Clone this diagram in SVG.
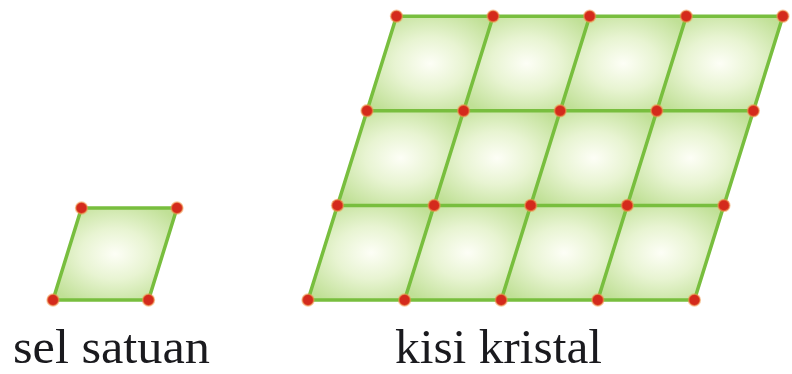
<svg xmlns="http://www.w3.org/2000/svg" xmlns:xlink="http://www.w3.org/1999/xlink" width="792" height="374" viewBox="0 0 792 374">
<defs>
<radialGradient id="g" cx="0.5" cy="0.5" r="0.62">
<stop offset="0" stop-color="#fdfef6"/>
<stop offset="0.45" stop-color="#e8f4d2"/>
<stop offset="1" stop-color="#c0e096"/>
</radialGradient>
<path id="cell" d="M0,0 L96.6,0 L126.1,-94.6 L29.5,-94.6 Z"/>
<circle id="dot" r="5.8"/>
</defs>
<style>
.fill{fill:url(#g)}
.edge{stroke:#78be3e;stroke-width:3.5;fill:none;stroke-linecap:round}
.dot{fill:#d42a1c;stroke:#f09a50;stroke-opacity:0.55;stroke-width:1.8}
.lbl{font-family:"Liberation Serif","DejaVu Serif",serif;font-size:48px;fill:#1a1a1e}
</style>
<rect width="792" height="374" fill="#ffffff"/>
<g id="sel-satuan">
<path class="fill" d="M53,300 L148.5,300 L177,208 L81.5,208 Z"/>
<path class="edge" d="M53,300 L148.5,300 L177,208 L81.5,208 Z"/>
<g class="dot">
<use xlink:href="#dot" x="53" y="300"/><use xlink:href="#dot" x="148.5" y="300"/>
<use xlink:href="#dot" x="177" y="208"/><use xlink:href="#dot" x="81.5" y="208"/>
</g>
</g>
<g id="kisi-kristal">
<g class="fill">
<use xlink:href="#cell" x="308" y="300"/><use xlink:href="#cell" x="404.6" y="300"/><use xlink:href="#cell" x="501.2" y="300"/><use xlink:href="#cell" x="597.8" y="300"/>
<use xlink:href="#cell" x="337.5" y="205.4"/><use xlink:href="#cell" x="434.1" y="205.4"/><use xlink:href="#cell" x="530.7" y="205.4"/><use xlink:href="#cell" x="627.3" y="205.4"/>
<use xlink:href="#cell" x="367" y="110.8"/><use xlink:href="#cell" x="463.6" y="110.8"/><use xlink:href="#cell" x="560.2" y="110.8"/><use xlink:href="#cell" x="656.8" y="110.8"/>
</g>
<g id="connectors" class="edge">
<path d="M308,300 H694.4"/>
<path d="M337.5,205.4 H723.9"/>
<path d="M367,110.8 H753.4"/>
<path d="M396.5,16.2 H782.9"/>
<path d="M308,300 L396.5,16.2"/>
<path d="M404.6,300 L493.1,16.2"/>
<path d="M501.2,300 L589.7,16.2"/>
<path d="M597.8,300 L686.3,16.2"/>
<path d="M694.4,300 L782.9,16.2"/>
</g>
<g class="dot">
<use xlink:href="#dot" x="308" y="300"/><use xlink:href="#dot" x="404.6" y="300"/><use xlink:href="#dot" x="501.2" y="300"/><use xlink:href="#dot" x="597.8" y="300"/><use xlink:href="#dot" x="694.4" y="300"/>
<use xlink:href="#dot" x="337.5" y="205.4"/><use xlink:href="#dot" x="434.1" y="205.4"/><use xlink:href="#dot" x="530.7" y="205.4"/><use xlink:href="#dot" x="627.3" y="205.4"/><use xlink:href="#dot" x="723.9" y="205.4"/>
<use xlink:href="#dot" x="367" y="110.8"/><use xlink:href="#dot" x="463.6" y="110.8"/><use xlink:href="#dot" x="560.2" y="110.8"/><use xlink:href="#dot" x="656.8" y="110.8"/><use xlink:href="#dot" x="753.4" y="110.8"/>
<use xlink:href="#dot" x="396.5" y="16.2"/><use xlink:href="#dot" x="493.1" y="16.2"/><use xlink:href="#dot" x="589.7" y="16.2"/><use xlink:href="#dot" x="686.3" y="16.2"/><use xlink:href="#dot" x="782.9" y="16.2"/>
</g>
</g>
<text class="lbl" x="13" y="363" textLength="197" lengthAdjust="spacingAndGlyphs">sel satuan</text>
<text class="lbl" x="395" y="363" textLength="207" lengthAdjust="spacingAndGlyphs">kisi kristal</text>
</svg>
